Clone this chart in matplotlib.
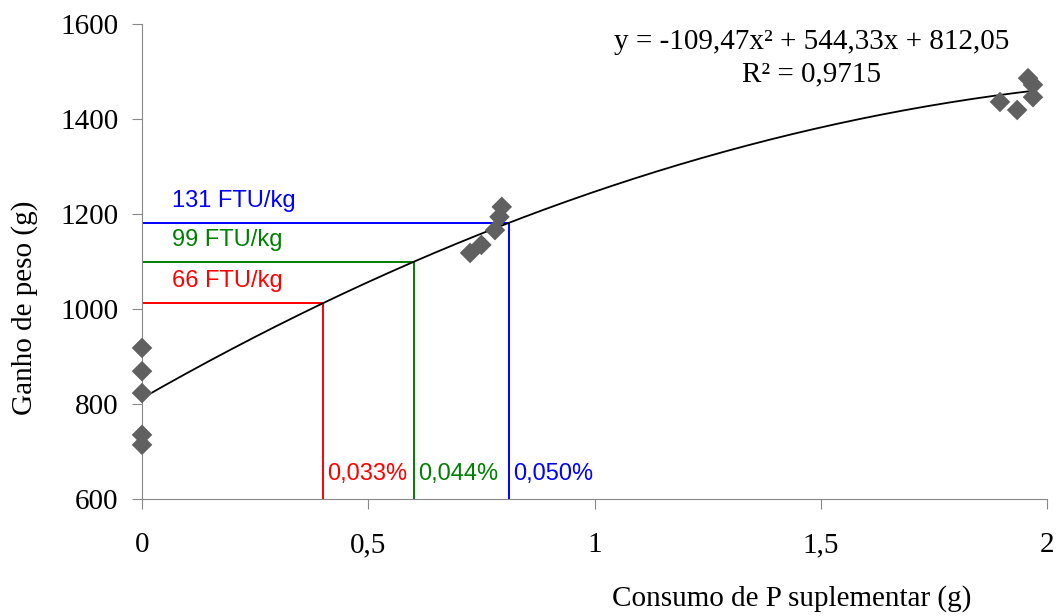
import numpy as np
import matplotlib
matplotlib.use('Agg')
import matplotlib.pyplot as plt

x0 = [0, 0, 0, 0, 0]
y0 = [918, 869, 823, 735, 714]
x1 = [0.725, 0.75, 0.78, 0.79, 0.795]
y1 = [1118, 1135, 1166, 1194, 1215]
x2 = [1.896, 1.934, 1.958, 1.969, 1.969]
y2 = [1436, 1419, 1486, 1472, 1446]
coef = [-109.47, 544.33, 812.05]
cut_x = [0.40, 0.60, 0.81]
cut_lbl = ['66 FTU/kg', '99 FTU/kg', '131 FTU/kg']
pct_lbl = ['0,033%', '0,044%', '0,050%']
cut_col = ['#ff0000', '#008000', '#0000ff']

xs = np.array(x0 + x1 + x2)
ys = np.array(y0 + y1 + y2)

fig = plt.figure(figsize=(10.56, 6.16), dpi=100)
ax = fig.add_axes([0.1345, 0.19, 0.857, 0.771])

xx = np.linspace(0, 1.97, 200)
yy = np.polyval(coef, xx)
ax.plot(xx, yy, color='black', lw=1.3, zorder=3)

for cx, lb, pl, c in zip(cut_x, cut_lbl, pct_lbl, cut_col):
    cy = np.polyval(coef, cx)
    ax.plot([0, cx], [cy, cy], color=c, lw=1.4, zorder=2)
    ax.plot([cx, cx], [600, cy], color=c, lw=1.4, zorder=2)
    ax.text(0.066, cy + 46, lb, color=c, fontsize=17, family='Liberation Sans', va='center')
    ax.text(cx + 0.01, 652, pl, color=c, fontsize=17, family='Liberation Sans', va='center')

ax.scatter(xs, ys, marker='D', s=110, color='#606060', edgecolors='none', zorder=4, clip_on=False)

ax.text(0.74, 0.962, 'y = -109,47x² + 544,33x + 812,05', transform=ax.transAxes,
        ha='center', va='center', fontsize=21, family='Liberation Serif')
ax.text(0.74, 0.895, 'R² = 0,9715', transform=ax.transAxes,
        ha='center', va='center', fontsize=21, family='Liberation Serif')

ax.set_xlim(0, 2)
ax.set_ylim(600, 1600)
ax.set_xticks([0, 0.5, 1, 1.5, 2])
ax.set_xticklabels(['0', '0,5', '1', '1,5', '2'])
ax.set_yticks([600, 800, 1000, 1200, 1400, 1600])
for lab in ax.get_xticklabels() + ax.get_yticklabels():
    lab.set_family('Liberation Serif')
    lab.set_fontsize(21)
ax.tick_params(axis='x', length=7, color='#888888', pad=17)
ax.tick_params(axis='y', length=7, color='#888888', pad=10)
ax.spines['top'].set_visible(False)
ax.spines['right'].set_visible(False)
ax.spines['left'].set_color('#888888')
ax.spines['bottom'].set_color('#888888')

fig.text(0.75, 0.028, 'Consumo de P suplementar (g)', ha='center', va='center',
         fontsize=21, family='Liberation Serif')
fig.text(0.023, 0.5, 'Ganho de peso (g)', ha='center', va='center', rotation=90,
         fontsize=21, family='Liberation Serif')

fig.savefig('out.png', dpi=100)
